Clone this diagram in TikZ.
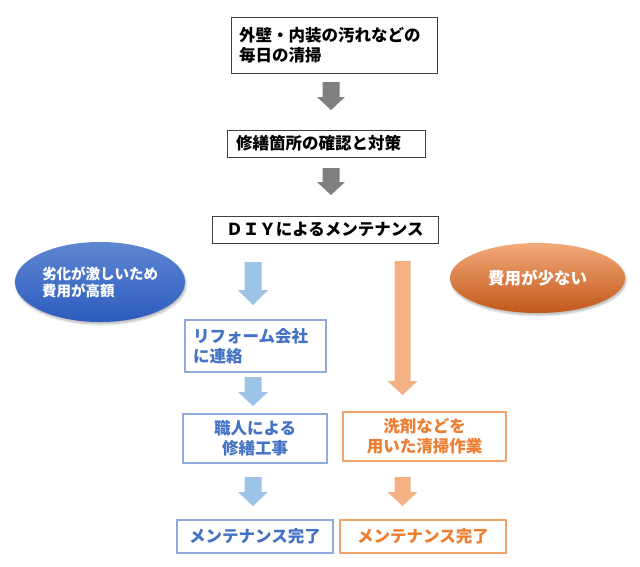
\documentclass[tikz,border=0pt]{standalone}
\usepackage{fontspec}
\setmainfont{Noto Sans CJK JP}
\usetikzlibrary{shapes.geometric,shadows.blur}
\definecolor{gline}{HTML}{404040}
\definecolor{blueline}{HTML}{8FAADC}
\definecolor{bluetext}{HTML}{4472C4}
\definecolor{bluetop}{HTML}{5E86D2}
\definecolor{bluebot}{HTML}{2C5CBE}
\definecolor{bluearrow}{HTML}{9DC3E6}
\definecolor{orline}{HTML}{F2A26B}
\definecolor{ortext}{HTML}{ED7D31}
\definecolor{ortop}{HTML}{F2AA7A}
\definecolor{orbot}{HTML}{C2571A}
\definecolor{orarrow}{HTML}{F4B183}
\definecolor{grayarrow}{HTML}{7F7F7F}
\newcommand{\blkarrow}[7]{%
  \fill[#1] (#2-#5,#3) -- (#2+#5,#3) -- (#2+#5,#4) -- (#2+#6,#4) -- (#2,#7) -- (#2-#6,#4) -- (#2-#5,#4) -- cycle;}
\begin{document}
\begin{tikzpicture}[x=1pt,y=-1pt,
  boxtext/.style={font=\fontsize{16.5}{20}\selectfont\bfseries, inner sep=0pt},
  blackbox/.style={boxtext, draw=gline, line width=0.9pt, fill=white, text=black},
  bluebox/.style={boxtext, draw=blueline, line width=1.3pt, fill=white, text=bluetext},
  orbox/.style={boxtext, draw=orline, line width=1.3pt, fill=white, text=ortext},
  bubble/.style={ellipse, inner sep=0pt, text=white,
     blur shadow={shadow blur steps=6, shadow xshift=1pt, shadow yshift=-2pt, shadow opacity=30}}
]
\useasboundingbox (0,0) rectangle (640,566);
% top chain
\node[blackbox, minimum width=206pt, minimum height=56pt, text width=190pt, align=left] (b1) at (334,45) {外壁・内装の汚れなどの\\毎日の清掃};
\node[blackbox, minimum width=198pt, minimum height=27pt, text width=180pt, align=left] (b2) at (326,143.5) {修繕箇所の確認と対策};
\node[blackbox, minimum width=226pt, minimum height=27pt, align=center] (b3) at (325,229.5) {ＤＩＹによるメンテナンス};
\blkarrow{grayarrow}{331}{82}{97}{8.5}{14}{110}
\blkarrow{grayarrow}{331}{168}{182}{8.5}{14}{195}
% ellipses
\node[bubble, minimum width=170pt, minimum height=80pt, align=left,
  top color=bluetop, middle color=bluetext, bottom color=bluebot,
  font=\fontsize{14.5}{17}\selectfont\bfseries] (e1) at (100,282) {劣化が激しいため\\費用が高額};
\node[bubble, minimum width=175pt, minimum height=70pt, align=center,
  top color=ortop, middle color=ortext, bottom color=orbot,
  font=\fontsize{16.5}{20}\selectfont\bfseries] (e2) at (537.5,278) {費用が少ない};
% blue branch
\node[bluebox, minimum width=141pt, minimum height=52pt, text width=125pt, align=left] (l1) at (255.5,346) {リフォーム会社\\に連絡};
\node[bluebox, minimum width=144pt, minimum height=49pt, align=center] (l2) at (255,438.5) {職人による\\修繕工事};
\node[bluebox, minimum width=156pt, minimum height=33pt, align=center] (l3) at (255,536.5) {メンテナンス完了};
\blkarrow{bluearrow}{253}{262}{290}{8.5}{15}{305}
\blkarrow{bluearrow}{253}{377}{392}{8.5}{15}{406}
\blkarrow{bluearrow}{253}{477}{492}{8.5}{15}{506}
% orange branch
\node[orbox, minimum width=163pt, minimum height=49pt, align=center] (r2) at (424.5,436.5) {洗剤などを\\用いた清掃作業};
\node[orbox, minimum width=166pt, minimum height=33pt, align=center] (r3) at (423,536.5) {メンテナンス完了};
\blkarrow{orarrow}{402.5}{261}{381}{8}{15}{395}
\blkarrow{orarrow}{402.5}{477}{492}{8}{15}{506}
\end{tikzpicture}
\end{document}
